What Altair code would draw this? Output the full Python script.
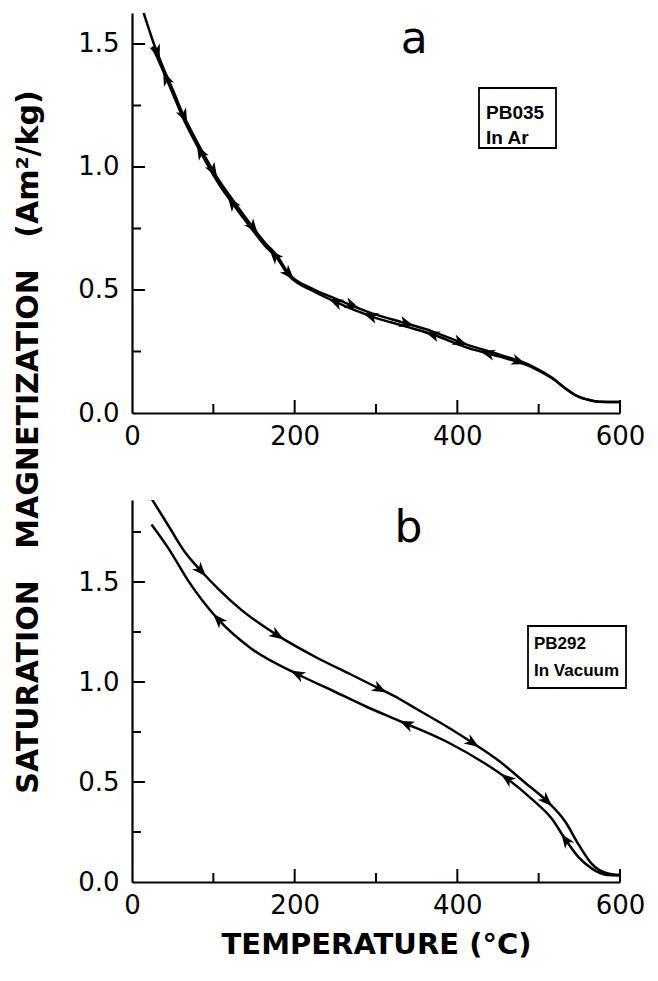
import math
import numpy as np
import pandas as pd
import altair as alt

# ---------------- data ----------------
# panel a : PB035 in Ar
a_heat_T = [14, 27, 37, 50, 64, 78, 91, 107, 123, 144, 164, 177, 193, 222, 250, 295, 336, 369, 410, 451, 492, 517, 533, 545, 562, 574, 600]
a_heat_M = [1.63, 1.50, 1.415, 1.315, 1.205, 1.115, 1.035, 0.945, 0.87, 0.775, 0.69, 0.645, 0.565, 0.505, 0.465, 0.405, 0.365, 0.332, 0.28, 0.238, 0.19, 0.142, 0.10, 0.073, 0.053, 0.046, 0.045]
a_cool_T = [25, 37, 50, 64, 78, 91, 107, 123, 144, 164, 177, 193, 222, 250, 295, 336, 369, 410, 451, 492, 517, 533, 545, 562, 574, 600]
a_cool_M = [1.49, 1.40, 1.30, 1.19, 1.10, 1.02, 0.93, 0.855, 0.762, 0.678, 0.635, 0.558, 0.497, 0.452, 0.392, 0.352, 0.32, 0.268, 0.23, 0.186, 0.14, 0.10, 0.073, 0.053, 0.046, 0.045]
a_heat_arrows = [31, 64, 100, 149, 193, 271, 338, 404, 476]
a_cool_arrows = [42, 84, 123, 175, 250, 293, 369, 437]

# panel b : PB292 in vacuum
b_heat_T = [24, 45, 65, 85, 106, 134, 179, 228, 268, 300, 329, 350, 390, 419, 451, 484, 510, 533, 549, 565, 585, 600]
b_heat_M = [1.917, 1.78, 1.65, 1.555, 1.466, 1.362, 1.233, 1.12, 1.04, 0.975, 0.915, 0.865, 0.77, 0.695, 0.606, 0.494, 0.405, 0.30, 0.188, 0.092, 0.043, 0.035]
b_cool_T = [24, 45, 69, 106, 146, 203, 245, 289, 332, 390, 435, 461, 492, 516, 533, 549, 565, 585, 600]
b_cool_M = [1.788, 1.667, 1.507, 1.313, 1.169, 1.04, 0.96, 0.875, 0.80, 0.695, 0.59, 0.518, 0.413, 0.317, 0.212, 0.124, 0.068, 0.035, 0.033]
b_heat_arrows = [85, 179, 305, 419, 510]
b_cool_arrows = [106, 203, 337, 461, 533]

x_ticks_major = [0, 200, 400, 600]
x_ticks_minor = [100, 300, 500]
y_ticks_major = [0.0, 0.5, 1.0, 1.5]

LABEL_FONT = "DejaVu Sans"
BOX_FONT = "Liberation Sans"
ARROW = "M1,0L-1,-0.75L-0.45,0L-1,0.75Z"
NB = "\u00a0"


def arrow_frame(T, M, at, W, H, ymax, reverse):
    T = np.asarray(T, float)
    M = np.asarray(M, float)
    rows = []
    for t in at:
        m = float(np.interp(t, T, M))
        m1 = float(np.interp(t - 6, T, M))
        m2 = float(np.interp(t + 6, T, M))
        dx = 12 * W / 600.0
        dy = -(m2 - m1) * H / ymax
        ang = math.degrees(math.atan2(dy, dx))
        if reverse:
            ang += 180
        rows.append({"T": t, "M": m, "ang": ang % 360})
    return pd.DataFrame(rows)


def panel(heatT, heatM, coolT, coolM, hA, cA, W, H, ymax, yminor,
          letter, letter_T, letter_M, box, box_lines, box_fs, xtitle, ytitle):
    xs = alt.Scale(domain=[0, 600], nice=False, zero=False)
    ys = alt.Scale(domain=[0, ymax], nice=False, zero=False)
    xax = alt.Axis(values=x_ticks_major, format="d", ticks=False, tickSize=0, grid=False,
                   domainColor="black", domainWidth=2.2, labelFont=LABEL_FONT,
                   labelFontSize=26, labelColor="black", labelPadding=10,
                   title=xtitle if xtitle else None, titleFont="DejaVu Sans",
                   titleFontSize=29, titleFontWeight="bold", titleColor="black",
                   titlePadding=12, labelFlush=False)
    yax = alt.Axis(values=y_ticks_major, format=".1f", ticks=False, tickSize=0, grid=False,
                   domainColor="black", domainWidth=2.2, labelFont=LABEL_FONT,
                   labelFontSize=26, labelColor="black", labelPadding=13,
                   title=None, labelFlush=False)

    lines = pd.concat([
        pd.DataFrame({"T": heatT, "M": heatM, "s": "heat", "i": range(len(heatT))}),
        pd.DataFrame({"T": coolT, "M": coolM, "s": "cool", "i": range(len(coolT))}),
    ])
    base = alt.Chart(lines).mark_line(color="black", strokeWidth=2.5, clip=True,
                                      interpolate="monotone").encode(
        x=alt.X("T:Q", scale=xs, axis=xax),
        y=alt.Y("M:Q", scale=ys, axis=yax),
        detail="s:N", order="i:Q")

    arr = pd.concat([arrow_frame(heatT, heatM, hA, W, H, ymax, False),
                     arrow_frame(coolT, coolM, cA, W, H, ymax, True)])
    arrows = alt.Chart(arr).mark_point(shape=ARROW, filled=True, color="black",
                                       size=220, opacity=1).encode(
        x=alt.X("T:Q", scale=xs), y=alt.Y("M:Q", scale=ys),
        angle=alt.Angle("ang:Q", scale=None))

    # inward tick marks
    ymaj = pd.DataFrame({"M": [v for v in y_ticks_major if v > 0]})
    ymin = pd.DataFrame({"M": yminor})
    xmaj = pd.DataFrame({"T": [v for v in x_ticks_major if v > 0]})
    xmin = pd.DataFrame({"T": x_ticks_minor})
    t1 = alt.Chart(ymaj).mark_rule(color="black", strokeWidth=2).encode(
        y=alt.Y("M:Q", scale=ys), x=alt.value(0), x2=alt.value(13))
    t2 = alt.Chart(ymin).mark_rule(color="black", strokeWidth=2).encode(
        y=alt.Y("M:Q", scale=ys), x=alt.value(0), x2=alt.value(9))
    t3 = alt.Chart(xmaj).mark_rule(color="black", strokeWidth=2).encode(
        x=alt.X("T:Q", scale=xs), y=alt.value(H), y2=alt.value(H - 13))
    t4 = alt.Chart(xmin).mark_rule(color="black", strokeWidth=2).encode(
        x=alt.X("T:Q", scale=xs), y=alt.value(H), y2=alt.value(H - 9))

    one = pd.DataFrame({"k": [0]})
    lett = alt.Chart(pd.DataFrame({"T": [letter_T], "M": [letter_M], "t": [letter]})).mark_text(
        font=LABEL_FONT, fontSize=44, baseline="alphabetic", align="center", color="black").encode(
        x=alt.X("T:Q", scale=xs), y=alt.Y("M:Q", scale=ys), text="t:N")

    bx0, bx1, by0, by1 = box
    rect = alt.Chart(one).mark_rect(fill="white", stroke="black", strokeWidth=1.8).encode(
        x=alt.value(bx0), x2=alt.value(bx1), y=alt.value(by0), y2=alt.value(by1))
    txts = []
    for (txt, tx, ty) in box_lines:
        txts.append(alt.Chart(one).mark_text(font=BOX_FONT, fontWeight="bold", fontSize=box_fs,
                                             align="left", baseline="alphabetic",
                                             color="black").encode(
            x=alt.value(tx), y=alt.value(ty), text=alt.value(txt)))

    layers = [base, arrows, t1, t2, t3, t4, lett, rect] + txts
    if ytitle:
        layers.append(alt.Chart(one).mark_text(font=LABEL_FONT, fontWeight="bold", fontSize=30,
                                               angle=270, align="center", baseline="middle",
                                               color="black").encode(
            x=alt.value(-103), y=alt.value(429), text=alt.value(ytitle)))
    return alt.layer(*layers).properties(width=W, height=H)


ytitle = "SATURATION" + NB * 3 + "MAGNETIZATION" + NB * 3 + "(Am\u00b2/kg)"

pa = panel(a_heat_T, a_heat_M, a_cool_T, a_cool_M, a_heat_arrows, a_cool_arrows,
           488, 400, 1.626, [0.25, 0.75, 1.25], "a", 347, 1.465,
           (347, 424, 75, 135), [("PB035", 354, 106), ("In Ar", 354, 131)], 19,
           None, ytitle)
pb = panel(b_heat_T, b_heat_M, b_cool_T, b_cool_M, b_heat_arrows, b_cool_arrows,
           488, 382, 1.91, [0.25, 0.75, 1.25, 1.75], "b", 340, 1.70,
           (396, 494, 126, 188), [("PB292", 402, 149), ("In Vacuum", 402, 176)], 17,
           "TEMPERATURE (\u00b0C)", None)

chart = alt.vconcat(pa, pb, spacing=87, bounds="flush").configure_view(stroke=None)
chart.save("out.html", embed_options={"renderer": "svg", "actions": False})
